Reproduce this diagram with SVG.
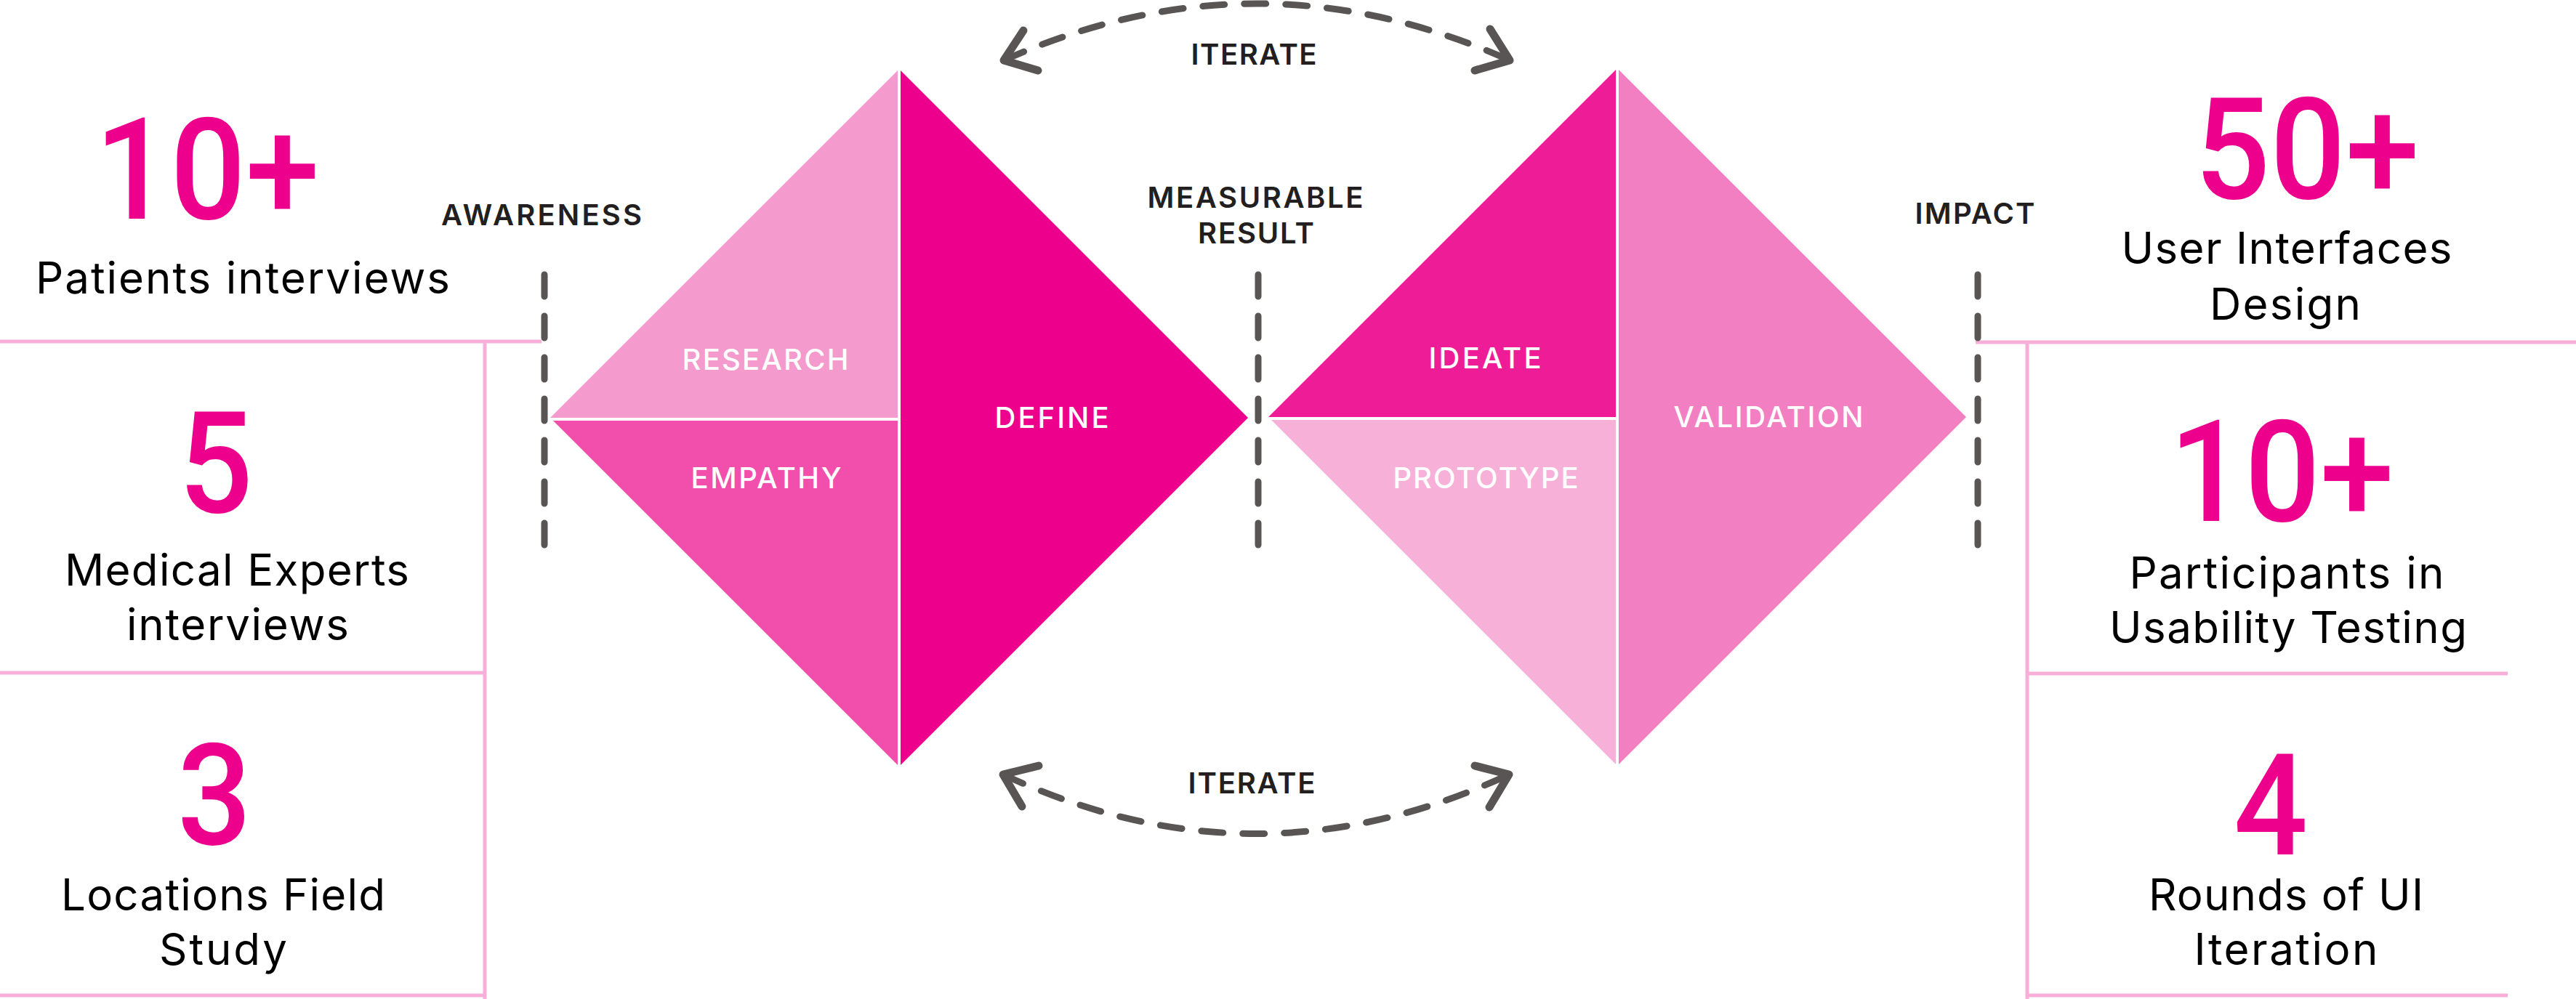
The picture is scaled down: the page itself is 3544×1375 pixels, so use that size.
<svg xmlns="http://www.w3.org/2000/svg" width="3544" height="1375" viewBox="0 0 3544 1375">
<style>
.num{font-family:Roboto,"Liberation Sans",sans-serif;font-weight:500;font-size:195px;fill:#EC008C;text-anchor:middle}
.stat{font-family:Inter,"Liberation Sans",sans-serif;font-weight:400;font-size:60px;fill:#000;text-anchor:middle}
.lbl{font-family:Inter,"Liberation Sans",sans-serif;font-weight:600;font-size:40px;fill:#231F20;text-anchor:middle}
.wlbl{font-family:Inter,"Liberation Sans",sans-serif;font-weight:500;font-size:40px;fill:#FFFFFF;text-anchor:middle}
.grid{stroke:#F7AFDA;stroke-width:5;fill:none}
.dash{stroke:#595555;stroke-width:9;fill:none;stroke-linecap:round;stroke-dasharray:30 27}
.head{stroke:#595555;stroke-width:11;fill:none;stroke-linecap:round;stroke-linejoin:round}
.sep{stroke:#FFFFFF;stroke-width:4}
</style>
<rect width="3544" height="1375" fill="#FFFFFF"/>

<g id="grid-lines">
<line class="grid" x1="0" y1="470" x2="745" y2="470"/>
<line class="grid" x1="667" y1="470" x2="667" y2="1375"/>
<line class="grid" x1="0" y1="926" x2="667" y2="926"/>
<line class="grid" x1="0" y1="1370" x2="667" y2="1370"/>
<line class="grid" x1="2718" y1="471" x2="3544" y2="471"/>
<line class="grid" x1="2789" y1="471" x2="2789" y2="1375"/>
<line class="grid" x1="2789" y1="927" x2="3450" y2="927"/>
<line class="grid" x1="2789" y1="1370" x2="3450" y2="1370"/>
</g>

<g id="stat-patients">
<text class="num" x="285" y="301" textLength="309" lengthAdjust="spacingAndGlyphs">10+</text>
<text class="stat" x="334" y="404" textLength="570" lengthAdjust="spacing">Patients interviews</text>
</g>
<g id="stat-experts">
<text class="num" x="297" y="705" textLength="102" lengthAdjust="spacingAndGlyphs">5</text>
<text class="stat" x="326" y="806" textLength="474" lengthAdjust="spacing">Medical Experts</text>
<text class="stat" x="327" y="881" textLength="306" lengthAdjust="spacing">interviews</text>
</g>
<g id="stat-locations">
<text class="num" x="295" y="1162" textLength="102" lengthAdjust="spacingAndGlyphs">3</text>
<text class="stat" x="307" y="1253" textLength="446" lengthAdjust="spacing">Locations Field</text>
<text class="stat" x="307" y="1328" textLength="176" lengthAdjust="spacing">Study</text>
</g>
<g id="stat-ui">
<text class="num" x="3174" y="273" textLength="309" lengthAdjust="spacingAndGlyphs">50+</text>
<text class="stat" x="3146" y="363" textLength="455" lengthAdjust="spacing">User Interfaces</text>
<text class="stat" x="3144" y="440" textLength="208" lengthAdjust="spacing">Design</text>
</g>
<g id="stat-participants">
<text class="num" x="3139" y="717" textLength="309" lengthAdjust="spacingAndGlyphs">10+</text>
<text class="stat" x="3146" y="810" textLength="433" lengthAdjust="spacing">Participants in</text>
<text class="stat" x="3148" y="885" textLength="492" lengthAdjust="spacing">Usability Testing</text>
</g>
<g id="stat-rounds">
<text class="num" x="3124" y="1176" textLength="102" lengthAdjust="spacingAndGlyphs">4</text>
<text class="stat" x="3145" y="1253" textLength="378" lengthAdjust="spacing">Rounds of UI</text>
<text class="stat" x="3145" y="1328" textLength="253" lengthAdjust="spacing">Iteration</text>
</g>

<g id="research">
<polygon points="757,575 1237,95 1237,575" fill="#F49ACD"/>
<text class="wlbl" x="1053" y="509" textLength="229" lengthAdjust="spacing">RESEARCH</text>
</g>
<g id="empathy">
<polygon points="757,575 1237,575 1237,1055" fill="#F24FAC"/>
<text class="wlbl" x="1054" y="672" textLength="207" lengthAdjust="spacing">EMPATHY</text>
</g>
<g id="define">
<polygon points="1237,95 1717,575 1237,1055" fill="#EC008C"/>
<text class="wlbl" x="1447" y="589" textLength="157" lengthAdjust="spacing">DEFINE</text>
</g>
<g id="ideate">
<polygon points="1745,574 2225,94 2225,574" fill="#EE1C96"/>
<text class="wlbl" x="2043" y="507" textLength="155" lengthAdjust="spacing">IDEATE</text>
</g>
<g id="prototype">
<polygon points="1745,574 2225,574 2225,1054" fill="#F7B1D9"/>
<text class="wlbl" x="2044" y="672" textLength="255" lengthAdjust="spacing">PROTOTYPE</text>
</g>
<g id="validation">
<polygon points="2225,94 2705,574 2225,1054" fill="#F37FC3"/>
<text class="wlbl" x="2433" y="588" textLength="261" lengthAdjust="spacing">VALIDATION</text>
</g>
<g id="separators">
<line class="sep" x1="1237" y1="92" x2="1237" y2="1058"/>
<line class="sep" x1="752" y1="577" x2="1237" y2="577"/>
<line class="sep" x1="2225" y1="91" x2="2225" y2="1057"/>
<line class="sep" x1="1740" y1="576" x2="2225" y2="576"/>
</g>

<g id="awareness">
<line class="dash" x1="749" y1="378" x2="749" y2="774"/>
<text class="lbl" x="745" y="310" textLength="276" lengthAdjust="spacing">AWARENESS</text>
</g>
<g id="measurable-result">
<line class="dash" x1="1731" y1="378" x2="1731" y2="774"/>
<text class="lbl" x="1727" y="286" textLength="297" lengthAdjust="spacing">MEASURABLE</text>
<text class="lbl" x="1728" y="335" textLength="160" lengthAdjust="spacing">RESULT</text>
</g>
<g id="impact">
<line class="dash" x1="2721" y1="378" x2="2721" y2="774"/>
<text class="lbl" x="2717" y="308" textLength="165" lengthAdjust="spacing">IMPACT</text>
</g>

<g id="connectors">
<path class="dash" d="M1381,83 Q1729,-73 2077,83"/>
<polyline class="head" points="1408,42 1381,83 1428,97"/>
<polyline class="head" points="2050,40 2077,83 2029,97"/>
<text class="lbl" x="1725" y="89" textLength="173" lengthAdjust="spacing">ITERATE</text>
<path class="dash" d="M1380,1066 Q1728,1229 2076,1066"/>
<polyline class="head" points="1429,1054 1380,1066 1406,1110"/>
<polyline class="head" points="2029,1054 2076,1066 2049,1111"/>
<text class="lbl" x="1722" y="1092" textLength="175" lengthAdjust="spacing">ITERATE</text>
</g>
</svg>
